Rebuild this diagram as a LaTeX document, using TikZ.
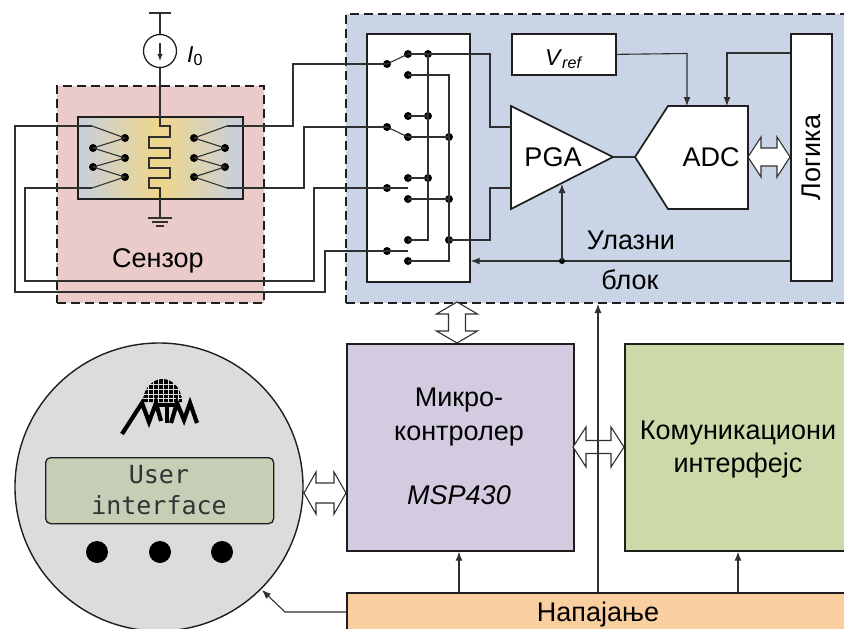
\documentclass[tikz,border=0pt]{standalone}
\usepackage{fontspec}
\setmainfont{Liberation Sans}
\newfontfamily\lcdfont{DejaVu Sans Mono}
\usetikzlibrary{arrows.meta,calc}

\definecolor{sensorbg}{HTML}{EBCACA}
\definecolor{inputbg}{HTML}{C9D5E6}
\definecolor{mcubg}{HTML}{D3CCE1}
\definecolor{commbg}{HTML}{CCDAAA}
\definecolor{powerbg}{HTML}{FACFA0}
\definecolor{dialbg}{HTML}{DCDCDC}
\definecolor{lcdbg}{HTML}{C5CFB6}
\definecolor{elemedge}{HTML}{C6CFDE}
\definecolor{elemmid}{HTML}{EED68A}
\definecolor{ink}{HTML}{1E1E1E}
\definecolor{wirec}{HTML}{303030}

\tikzset{
  wire/.style={draw=wirec, line width=1.1pt},
  sig/.style={wire, -{Latex[length=9pt,width=7pt]}},
  box/.style={draw=ink, line width=1.7pt},
  dashbox/.style={draw=ink, line width=2pt, dash pattern=on 9pt off 5pt},
  dotn/.style={circle, fill=black, inner sep=0pt, minimum size=8pt},
  lbl/.style={font=\fontsize{27}{32}\selectfont, text=black, inner sep=0pt},
  hollow/.style={draw=wirec, line width=1.1pt, fill=white, line join=miter},
}

% horizontal hollow double arrow: x1, x2, y, head half-height, shaft half-height, head length
\newcommand\hollowH[6]{\draw[hollow] ({#1},{#3}) -- ({#1+#6},{#3-#4}) -- ({#1+#6},{#3-#5}) -- ({#2-#6},{#3-#5}) -- ({#2-#6},{#3-#4}) -- ({#2},{#3}) -- ({#2-#6},{#3+#4}) -- ({#2-#6},{#3+#5}) -- ({#1+#6},{#3+#5}) -- ({#1+#6},{#3+#4}) -- cycle;}
% vertical hollow double arrow: y1, y2, x, head half-width, shaft half-width, head length
\newcommand\hollowV[6]{\draw[hollow] ({#3},{#1}) -- ({#3-#4},{#1+#6}) -- ({#3-#5},{#1+#6}) -- ({#3-#5},{#2-#6}) -- ({#3-#4},{#2-#6}) -- ({#3},{#2}) -- ({#3+#4},{#2-#6}) -- ({#3+#5},{#2-#6}) -- ({#3+#5},{#1+#6}) -- ({#3+#4},{#1+#6}) -- cycle;}

\begin{document}
\begin{tikzpicture}[x=1pt,y=-1pt]
\useasboundingbox (0,0) rectangle (844,629);
\clip (0,0) rectangle (844,629);

% ================= input block =================
\node[dashbox, fill=inputbg, anchor=north west, minimum width=520, minimum height=289, inner sep=0] (inblk) at (345,13) {};

% ================= sensor =================
\node[dashbox, fill=sensorbg, anchor=north west, minimum width=207, minimum height=217, inner sep=0] (sensor) at (56,85) {};
\node[lbl, anchor=base] (sensorlbl) at (158,267) {Сензор};

\shade[left color=elemedge, right color=elemedge, middle color=elemmid] (77,116) rectangle (242,198);
\node[box, anchor=north west, minimum width=165, minimum height=82, inner sep=0] (elem) at (77,116) {};

% current source and supply
\node[circle, draw=ink, line width=1.3pt, minimum size=33, inner sep=0] (isrc) at (160,51) {};
\draw[wire] (149,13) -- (171,13);
\draw[wire] (160,13) -- (isrc.north);
\draw[wire, -{Latex[length=7pt,width=5.5pt]}] (160,43) -- (160,61);
\node[font=\fontsize{23}{26}\selectfont, anchor=base west, inner sep=0] (ilbl) at (187,62) {\textit{I}\textsubscript{0}};

% meander resistor and ground
\draw[wire] (isrc.south) -- (160,126) -- (170,126) -- (170,137) -- (149,137) -- (149,148) -- (170,148) -- (170,158) -- (149,158) -- (149,168) -- (170,168) -- (170,178) -- (149,178) -- (149,188) -- (160,188) -- (160,218) coordinate (gnd);
\draw[wire] (148,218) -- (172,218);
\draw[wire] (152,222) -- (168,222);
\draw[wire] (156,226) -- (164,226);

% sensing contacts
\coordinate (Lt) at (92,126);  \coordinate (Lb) at (92,188);
\coordinate (Rt) at (227,126); \coordinate (Rb) at (227,188);
\foreach \n/\x/\y in {L1/125/138, L2/93/148, L3/125/158, L4/93/167, L5/125/177,
                      R1/194/138, R2/225/148, R3/194/158, R4/225/167, R5/194/177}
  \node[dotn] (\n) at (\x,\y) {};
\draw[wire] (Lt) -- (L1.center) -- (L2.center) -- (L3.center) -- (L4.center) -- (L5.center) -- (Lb);
\draw[wire] (Rt) -- (R1.center) -- (R2.center) -- (R3.center) -- (R4.center) -- (R5.center) -- (Rb);

% ================= multiplexer =================
\node[box, fill=white, anchor=north west, minimum width=103, minimum height=248, inner sep=0] (mux) at (366,33) {};
\foreach \n/\x/\y in {P1/387/64, P2/387/127, P3/387/188, P4/387/251,
                      C1a/408/54, C1b/408/75, C2a/408/116, C2b/408/137,
                      C3a/408/178, C3b/408/199, C4a/408/240, C4b/408/261,
                      A1/428/54, A2/428/116, A3/428/178,
                      B2/449/137, B3/449/199, B4/449/240}
  \node[dotn] (\n) at (\x,\y) {};

% switch blades
\draw[wire] (P1.center) -- (C1a.center);
\draw[wire] (P2.center) -- (C2b.center);
\draw[wire] (P3.center) -- (408,188);
\draw[wire] (P4.center) -- (408,251);
% bus A
\draw[wire] (C1a.center) -- (A1.center) -- (428,240) -- (C4a.center);
\draw[wire] (C2a.center) -- (A2.center);
\draw[wire] (C3a.center) -- (A3.center);
% bus B
\draw[wire] (C1b.center) -- (449,75) -- (449,261) -- (C4b.center);
\draw[wire] (C2b.center) -- (B2.center);
\draw[wire] (C3b.center) -- (B3.center);

% sensor wiring to the multiplexer
\draw[wire] (Rt) -- (293,126) |- (P1.center);
\draw[wire] (Rb) -- (304,188) |- (P2.center);
\draw[wire] (Lb) -- (25,188) -- (25,281) -- (314,281) |- (P3.center);
\draw[wire] (Lt) -- (15,126) -- (15,292) -- (325,292) |- (P4.center);

% ================= PGA / ADC =================
\draw[box, fill=white, line join=miter] (511,106) -- (613,157) coordinate (pgaOut) -- (511,209) -- cycle;
\node[lbl, anchor=base] (pga) at (553,166) {PGA};
\draw[wire] (A1.center) -- (490,54) |- (511,127);
\draw[wire] (B4.center) -- (490,240) |- (511,188);

\draw[box, fill=white, line join=miter] (635,157) coordinate (adcIn) -- (668,106) -- (748,106) -- (748,209) -- (668,209) -- cycle;
\node[lbl, anchor=base] (adc) at (711,166) {ADC};
\draw[wire] (pgaOut) -- (adcIn);

\node[box, fill=white, anchor=north west, minimum width=104, minimum height=41, inner sep=0] (vref) at (511,33) {};
\node[font=\fontsize{23}{26}\selectfont, anchor=base, inner sep=0] (vreflbl) at (564,65) {\textit{V}\textsubscript{\textit{ref}}};
\draw[sig] (vref.east) -- (687,53.5) -- (687,106);

\node[box, fill=white, anchor=north west, minimum width=41, minimum height=247, inner sep=0] (logic) at (790,33) {};
\node[lbl, rotate=90, anchor=base] (logiclbl) at (820,157.5) {Логика};
\draw[sig] (790,53) -- (727,53) -- (727,106);
\hollowH{748}{790}{157}{20}{9}{13}

\draw[sig] (790,261) -- (mux.east |- 0,261);
\node[circle, fill=black, inner sep=0, minimum size=6pt] (fbj) at (562,261) {};
\draw[sig] (fbj.center) -- (562,184);

\node[lbl, anchor=base] (inlbl1) at (631,249) {Улазни};
\node[lbl, anchor=base] (inlbl2) at (630,289) {блок};

% ================= lower blocks =================
\hollowV{302}{343}{457}{20.5}{8.5}{12}
\node[box, fill=mcubg, anchor=north west, minimum width=227, minimum height=207, inner sep=0] (mcu) at (346,343) {};
\node[lbl, anchor=base] at (459,406) {Микро-};
\node[lbl, anchor=base] at (459,440) {контролер};
\node[lbl, anchor=base] at (459,504) {\textit{MSP430}};

\node[box, fill=commbg, anchor=north west, minimum width=260, minimum height=207, inner sep=0] (comm) at (624,343) {};
\node[lbl, anchor=base] at (738,439) {Комуникациони};
\node[lbl, anchor=base] at (738,472) {интерфејс};

\node[box, fill=powerbg, anchor=north west, minimum width=520, minimum height=60, inner sep=0] (power) at (346,592) {};
\node[lbl, anchor=base] at (598,621) {Напајање};

\draw[sig] (459,592) -- (mcu.south -| 459,0);
\draw[sig] (738,592) -- (comm.south -| 738,0);
\hollowH{573}{624}{447}{20}{6.5}{13}
\draw[sig] (598,592) -- (inblk.south -| 598,0);

% ================= user interface dial =================
\node[circle, draw=ink, line width=1.4pt, fill=dialbg, minimum size=288, inner sep=0] (dial) at (159,487) {};
\hollowH{304}{346}{493}{21}{10}{12}
\draw[sig] (346,612) -- (285,612) -- (262,590);

% logo
\fill[black] (143,402) arc[start angle=180, end angle=360, x radius=19.5, y radius=23] -- cycle;
\foreach \gx in {148.5,153.5,158.5,163.5,168.5,173.5,178.5}
  \draw[dialbg, line width=0.9pt] (\gx,376) -- (\gx,403);
\foreach \gy in {384,389,394,398.5}
  \draw[dialbg, line width=0.9pt] (140,\gy) -- (185,\gy);
\draw[black, line width=4.2pt, line join=miter] (122,434) -- (142,403) -- (149,422) -- (156,403) -- (161,421);
\draw[black, line width=4pt] (157,405) -- (176,405);
\draw[black, line width=4pt] (166.5,405) -- (166.5,423);
\draw[black, line width=4.2pt, line join=miter] (171,423) -- (177,403) -- (184,420) -- (190,403) -- (197,423);

% display
\node[draw=ink, line width=1.3pt, fill=lcdbg, rounded corners=5pt, anchor=north west, minimum width=228, minimum height=66, inner sep=0] (lcd) at (45,457) {};
\node[font=\lcdfont\fontsize{25}{30}\selectfont, text=black!80, anchor=base, inner sep=0] at (159,483) {User};
\node[font=\lcdfont\fontsize{25}{30}\selectfont, text=black!80, anchor=base, inner sep=0] at (159,514) {interface};

% buttons
\foreach \bx/\bn in {97/b1,160/b2,222/b3}
  \node[circle, fill=black, minimum size=22, inner sep=0] (\bn) at (\bx,552) {};

\end{tikzpicture}
\end{document}
